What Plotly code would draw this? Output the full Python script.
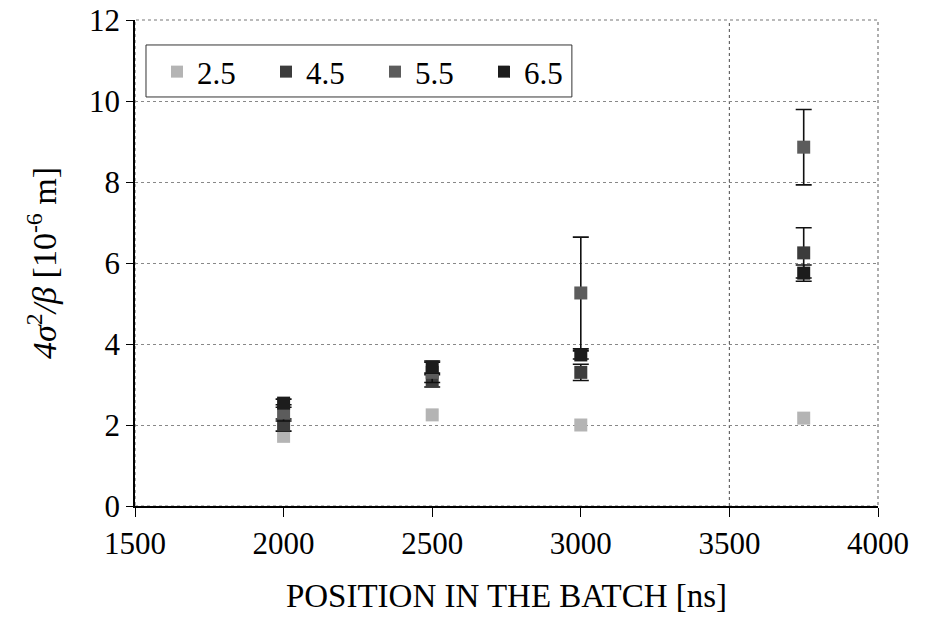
import plotly.graph_objects as go

positions = [2000, 2500, 3000, 3750]
series_names = ["2.5", "4.5", "5.5", "6.5"]
vals_25 = [1.72, 2.25, 2.00, 2.17]
vals_45 = [2.00, 3.09, 3.30, 6.25]
vals_55 = [2.30, 3.30, 5.26, 8.86]
vals_65 = [2.54, 3.43, 3.73, 5.75]
err_25 = [0.0, 0.0, 0.0, 0.0]
err_45 = [0.15, 0.15, 0.20, 0.62]
err_55 = [0.20, 0.25, 1.38, 0.93]
err_65 = [0.10, 0.15, 0.10, 0.20]
x_ticks = [1500, 2000, 2500, 3000, 3500, 4000]
y_ticks = [0, 2, 4, 6, 8, 10, 12]

colors = ["#b4b4b4", "#3c3c3c", "#5c5c5c", "#1c1c1c"]
values = [vals_25, vals_45, vals_55, vals_65]
errors = [err_25, err_45, err_55, err_65]

FONT = "Liberation Serif, Times New Roman, serif"
FS = 31

fig = go.Figure()
for name, v, e, c in zip(series_names, values, errors, colors):
    fig.add_trace(go.Scatter(
        x=positions, y=v, name=name, mode="markers",
        marker=dict(symbol="square", size=13, color=c, line=dict(width=0)),
        error_y=dict(type="data", array=e, visible=any(val > 0 for val in e),
                     color="#111", thickness=1.6, width=8),
    ))

# dotted frame around plot area
fig.add_shape(type="rect", xref="paper", yref="paper", x0=0, y0=0, x1=1, y1=1,
              line=dict(color="#777", width=1.2, dash="dot"), layer="below")
# vertical dotted line at 3500
fig.add_shape(type="line", xref="x", yref="paper", x0=3500, x1=3500, y0=0, y1=1,
              line=dict(color="#666", width=1.2, dash="dot"), layer="below")
# legend box
fig.add_shape(type="rect", xref="paper", yref="paper", x0=0.0148, x1=0.588, y0=0.8416, y1=0.9486,
              line=dict(color="#333", width=1), fillcolor="white", layer="above")

fig.update_layout(
    width=932, height=621,
    margin=dict(l=135, r=54, t=20, b=115, autoexpand=False),
    paper_bgcolor="white", plot_bgcolor="white",
    font=dict(family=FONT, color="black", size=FS),
    showlegend=True,
    legend=dict(
        orientation="h", x=0.0296, y=0.9486, xanchor="left", yanchor="top",
        bgcolor="rgba(0,0,0,0)", borderwidth=0,
        font=dict(family=FONT, size=FS, color="black"),
        entrywidth=64, entrywidthmode="pixels",
        itemsizing="constant",
    ),
    xaxis=dict(
        range=[1500, 4000], tickvals=x_ticks, ticks="outside", ticklen=9,
        tickcolor="black", showline=True, linecolor="black", linewidth=1.5,
        showgrid=False, zeroline=False, automargin=False,
        tickfont=dict(family=FONT, size=FS),
        title=dict(text="POSITION IN THE BATCH [ns]", font=dict(family=FONT, size=33), standoff=24),
    ),
    yaxis=dict(
        range=[0, 12], tickvals=y_ticks, ticks="outside", ticklen=7,
        tickcolor="black", showline=True, linecolor="black", linewidth=1.5,
        showgrid=True, gridcolor="#888", griddash="dot", gridwidth=1,
        zeroline=False, automargin=False,
        tickfont=dict(family=FONT, size=FS),
        title=dict(text="<i>4σ</i><sup>2</sup><i>/β</i> [10<sup>-6</sup> m]",
                   font=dict(family=FONT, size=34), standoff=22),
    ),
)

fig.write_html("out.html")
